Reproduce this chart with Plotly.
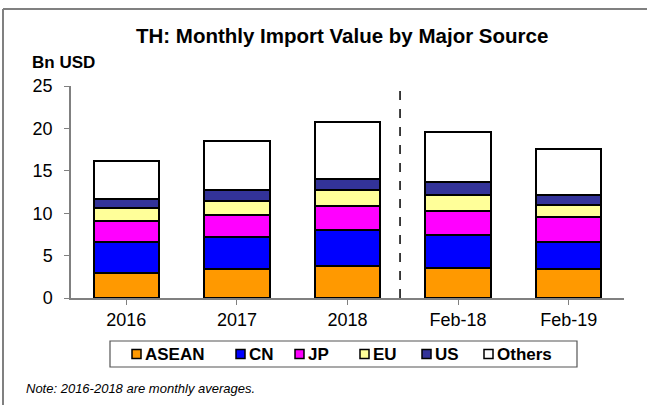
import plotly.graph_objects as go

categories = ["2016", "2017", "2018", "Feb-18", "Feb-19"]
series_names = ["ASEAN", "CN", "JP", "EU", "US", "Others"]
asean = [3.0, 3.42, 3.81, 3.54, 3.42]
cn = [3.58, 3.73, 4.17, 3.89, 3.22]
jp = [2.51, 2.64, 2.91, 2.79, 2.88]
eu = [1.53, 1.69, 1.85, 1.96, 1.48]
us = [1.02, 1.26, 1.29, 1.50, 1.11]
others = [4.56, 5.73, 6.76, 5.86, 5.42]
values = [asean, cn, jp, eu, us, others]
colors = ["#FF9900", "#0000FF", "#FF00FF", "#FFFF99", "#333399", "#FFFFFF"]
y_ticks = [0, 5, 10, 15, 20, 25]

FONT = "Liberation Sans, Arial, sans-serif"
W, H = 647, 405
ML, MR, MT, MB = 71, 23, 86, 107
PW, PH = W - ML - MR, H - MT - MB


def px(xp):
    return (xp - ML) / PW


def py(yp):
    return (H - MB - yp) / PH


fig = go.Figure()
xs = list(range(len(categories)))
for name, vals, col in zip(series_names, values, colors):
    fig.add_trace(go.Bar(
        x=xs, y=vals, name=name,
        marker=dict(color=col, line=dict(color="black", width=2)),
        showlegend=False,
    ))

fig.update_layout(
    width=W, height=H,
    margin=dict(l=ML, r=MR, t=MT, b=MB),
    barmode="stack", bargap=0.407,
    paper_bgcolor="white", plot_bgcolor="white",
    font=dict(family=FONT, size=18, color="black"),
    xaxis=dict(
        range=[-0.5, 4.5], tickmode="array", tickvals=xs, ticktext=categories,
        showline=True, linecolor="#808080", linewidth=1.5,
        ticks="outside", tickson="boundaries", ticklen=5, tickcolor="#808080",
        showgrid=False, zeroline=False, fixedrange=True,
    ),
    yaxis=dict(
        range=[0, 25], tickmode="array", tickvals=y_ticks,
        showline=True, linecolor="#808080", linewidth=1.5,
        ticks="outside", ticklen=5, tickcolor="#808080",
        ticklabelstandoff=8,
        showgrid=False, zeroline=False, fixedrange=True,
    ),
)

shapes = []
# outer frame (left and top edges; others fall outside the picture)
shapes.append(dict(type="line", xref="paper", yref="paper",
                   x0=px(3), x1=px(3), y0=py(9), y1=py(405),
                   line=dict(color="#808080", width=2)))
shapes.append(dict(type="line", xref="paper", yref="paper",
                   x0=px(3), x1=px(647), y0=py(9), y1=py(9),
                   line=dict(color="#808080", width=2)))
# dashed separator
shapes.append(dict(type="line", xref="x", yref="paper",
                   x0=2.475, x1=2.475, y0=0, y1=py(83),
                   line=dict(color="black", width=1.5, dash="dash")))
# legend box
shapes.append(dict(type="rect", xref="paper", yref="paper",
                   x0=px(110), x1=px(577), y0=py(341), y1=py(367),
                   line=dict(color="#555555", width=1.2), fillcolor="white"))

marker_left = [132, 236, 295, 360, 422, 484]
annotations = []
for name, col, ml in zip(series_names, colors, marker_left):
    shapes.append(dict(type="rect", xref="paper", yref="paper",
                       x0=px(ml), x1=px(ml + 9), y0=py(349.5), y1=py(358.5),
                       line=dict(color="black", width=1.5), fillcolor=col))
    annotations.append(dict(text=f"<b>{name}</b>", xref="paper", yref="paper",
                            x=px(ml + 11), y=py(354), xanchor="left", yanchor="middle",
                            showarrow=False, font=dict(size=17, family=FONT)))

annotations.append(dict(text="<b>TH: Monthly Import Value by Major Source</b>",
                        xref="paper", yref="paper", x=px(342), y=py(35),
                        xanchor="center", yanchor="middle", showarrow=False,
                        font=dict(size=20.5, family=FONT)))
annotations.append(dict(text="<b>Bn USD</b>", xref="paper", yref="paper",
                        x=px(30), y=py(62), xanchor="left", yanchor="middle",
                        showarrow=False, font=dict(size=17, family=FONT)))
annotations.append(dict(text="<i>Note: 2016-2018 are monthly averages.</i>",
                        xref="paper", yref="paper", x=px(24), y=py(388),
                        xanchor="left", yanchor="middle", showarrow=False,
                        font=dict(size=13, family=FONT)))

fig.update_layout(shapes=shapes, annotations=annotations)
fig.write_html(
    "out.html", config={"displayModeBar": False},
    post_script=(
        "document.body.style.margin='0';"
        "document.body.style.overflow='hidden';"
        "document.documentElement.style.overflow='hidden';"
    ),
)
